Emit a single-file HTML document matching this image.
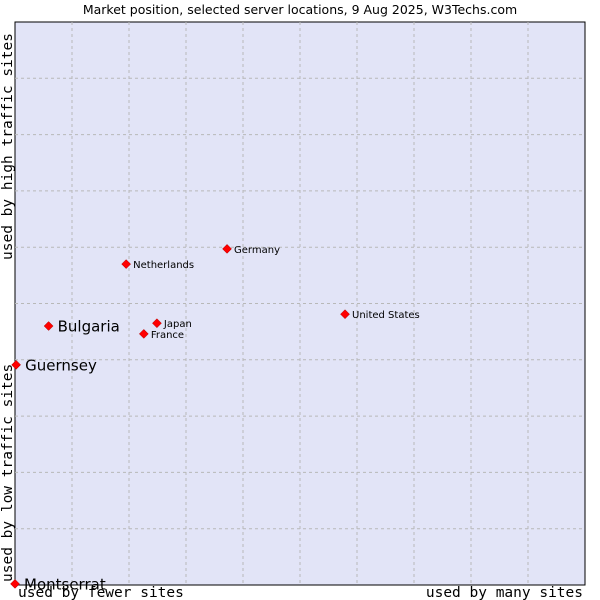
<!DOCTYPE html>
<html><head><meta charset="utf-8"><style>body{margin:0;background:#fff}svg{display:block}</style></head>
<body>
<svg id="chart" width="600" height="600" xmlns="http://www.w3.org/2000/svg" font-family="DejaVu Sans, Liberation Sans, sans-serif">
<text x="300" y="14" text-anchor="middle" font-size="12.5">Market position, selected server locations, 9 Aug 2025, W3Techs.com</text>
<rect x="15" y="22" width="570" height="563" fill="#e2e4f7" stroke="#000" stroke-width="1"/>
<g id="grid"></g>
<text x="18" y="597" font-family="DejaVu Sans Mono, Liberation Mono, monospace" font-size="14.5">used by fewer sites</text>
<text x="583" y="597" text-anchor="end" font-family="DejaVu Sans Mono, Liberation Mono, monospace" font-size="14.5">used by many sites</text>
<text transform="translate(12,582) rotate(-90)" font-family="DejaVu Sans Mono, Liberation Mono, monospace" font-size="14.5">used by low traffic sites</text>
<text transform="translate(12,260) rotate(-90)" font-family="DejaVu Sans Mono, Liberation Mono, monospace" font-size="14.5">used by high traffic sites</text>
<g id="points"></g>
</svg>
<script>
const countries = ["Netherlands","Germany","United States","Bulgaria","Japan","France","Guernsey","Montserrat"];
const siteShare = [19.5,37.2,57.9,5.9,24.9,22.6,0.2,0];
const trafficScore = [57.0,59.7,48.1,46.0,46.5,44.6,39.1,0.2];
const highlighted = [false,false,false,true,false,false,true,true];
const NS="http://www.w3.org/2000/svg";
const xs=v=>15+v*5.7, ys=v=>585-v*5.63;
const grid=document.getElementById('grid');
for(let i=1;i<10;i++){
  const gx=document.createElementNS(NS,'line');
  
  
  const x=15+i*57;
  gx.setAttribute('x1',x);gx.setAttribute('x2',x);gx.setAttribute('y1',22);gx.setAttribute('y2',585);
  gx.setAttribute('stroke','#b8b8b8');gx.setAttribute('stroke-dasharray','3,3');
  grid.appendChild(gx);
  const gy=document.createElementNS(NS,'line');
  
  
  const y=22+i*56.3;
  gy.setAttribute('y1',y);gy.setAttribute('y2',y);gy.setAttribute('x1',15);gy.setAttribute('x2',585);
  gy.setAttribute('stroke','#b8b8b8');gy.setAttribute('stroke-dasharray','3,3');
  grid.appendChild(gy);
}
const pts=document.getElementById('points');
countries.forEach((c,i)=>{
  const x=xs(siteShare[i]), y=ys(trafficScore[i]);
  const d=document.createElementNS(NS,'path');
  
  
  d.setAttribute('d',`M${x} ${y-4.5}L${x+4.5} ${y}L${x} ${y+4.5}L${x-4.5} ${y}Z`);
  d.setAttribute('fill','#f00');d.setAttribute('stroke','#a00');d.setAttribute('stroke-width','0.5');
  pts.appendChild(d);
  const t=document.createElementNS(NS,'text');
  
  
  const big=highlighted[i];
  t.setAttribute('x',x+(big?9:7));
  t.setAttribute('y',y+(big?5.5:4));
  t.setAttribute('font-size',big?'15':'10');
  t.textContent=c;
  pts.appendChild(t);
});
</script>
</body></html>
